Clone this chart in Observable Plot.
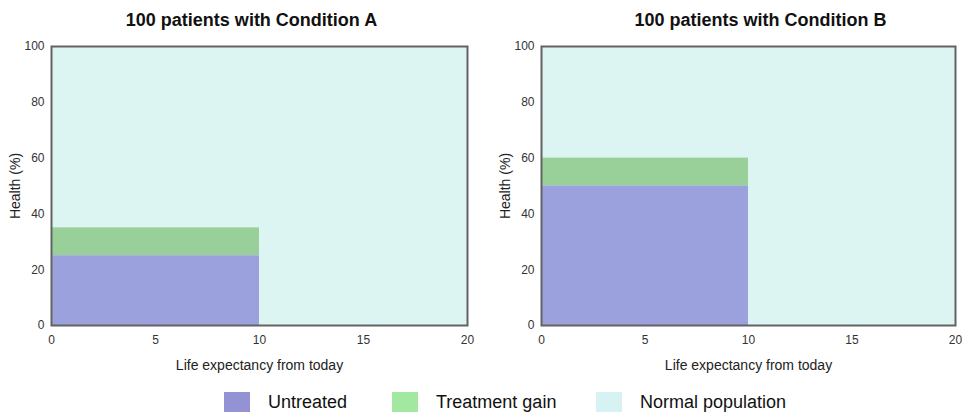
<!DOCTYPE html>
<html>
<head>
<meta charset="utf-8">
<script src="https://cdn.jsdelivr.net/npm/d3@7"></script>
<script src="https://cdn.jsdelivr.net/npm/@observablehq/plot@0.6"></script>
<style>
  html, body { margin: 0; padding: 0; background: #fff; }
  body { width: 962px; height: 412px; overflow: hidden; position: relative; font-family: Arial, "Liberation Sans", sans-serif; }
  #charts { position: absolute; left: 0; top: 0; display: flex; }
  #legend { position: absolute; top: 392px; left: 0; width: 962px; height: 24px; }
  .item { position: absolute; top: 0; display: flex; align-items: center; font-size: 18px; color: #111; }
  .sw { width: 26px; height: 21px; margin-right: 18px; }
</style>
</head>
<body>
<div id="charts"></div>
<div id="legend"></div>
<script>
const panels = ["100 patients with Condition A", "100 patients with Condition B"];
const untreatedHealth = [25, 50];
const treatedHealth = [35, 60];
const patientLife = [10, 10];
const normalHealth = 100;
const normalLife = 20;
const xTicks = [0, 5, 10, 15, 20];
const yTicks = [0, 20, 40, 60, 80, 100];
const seriesNames = ["Untreated", "Treatment gain", "Normal population"];
const seriesColors = ["#9aa1dc", "#99d09a", "#dcf5f2"];
const legendColors = ["#9292d4", "#a2e8a0", "#d6f2f2"];

const layouts = [
  {marginLeft: 51, marginRight: 14, width: 481, dx: -8},
  {marginLeft: 60, marginRight: 7, width: 481, dx: 12}
];

panels.forEach((title, i) => {
  const L = layouts[i];
  const chart = Plot.plot({
    width: L.width,
    height: 380,
    marginLeft: L.marginLeft,
    marginRight: L.marginRight,
    marginTop: 46,
    marginBottom: 55,
    style: {fontFamily: "Arial, 'Liberation Sans', sans-serif", fontSize: "12px", background: "white", overflow: "visible"},
    x: {domain: [0, normalLife]},
    y: {domain: [0, normalHealth]},
    marks: [
      Plot.rect([{x1: 0, x2: normalLife, y1: 0, y2: normalHealth}], {x1: "x1", x2: "x2", y1: "y1", y2: "y2", fill: seriesColors[2]}),
      Plot.rect([{x1: 0, x2: patientLife[i], y1: untreatedHealth[i], y2: treatedHealth[i]}], {x1: "x1", x2: "x2", y1: "y1", y2: "y2", fill: seriesColors[1]}),
      Plot.rect([{x1: 0, x2: patientLife[i], y1: 0, y2: untreatedHealth[i]}], {x1: "x1", x2: "x2", y1: "y1", y2: "y2", fill: seriesColors[0]}),
      Plot.frame({stroke: "#626262", strokeWidth: 2}),
      Plot.axisX({ticks: xTicks, tickSize: 0, tickPadding: 10, fill: "#333", label: null, fontSize: 12}),
      Plot.axisX({ticks: [], fill: "#222", label: "Life expectancy from today", labelAnchor: "center", labelArrow: "none", labelOffset: 44, fontSize: 14}),
      Plot.axisY({ticks: yTicks, tickSize: 0, tickPadding: 7, fill: "#333", label: null, fontSize: 12}),
      Plot.axisY({ticks: [], fill: "#222", label: "Health (%)", labelAnchor: "center", labelArrow: "none", labelOffset: 41, fontSize: 14}),
      Plot.text([title], {frameAnchor: "top", dy: -33, dx: L.dx, fontSize: 18, fontWeight: "bold", fill: "#111"})
    ]
  });
  document.getElementById("charts").appendChild(chart);
});

const legendX = [224, 392, 596];
const legend = document.getElementById("legend");
seriesNames.forEach((name, i) => {
  const item = document.createElement("div");
  item.className = "item";
  item.style.left = legendX[i] + "px";
  const sw = document.createElement("div");
  sw.className = "sw";
  sw.style.background = legendColors[i];
  const label = document.createElement("span");
  label.textContent = name;
  item.appendChild(sw);
  item.appendChild(label);
  legend.appendChild(item);
});
</script>
</body>
</html>
